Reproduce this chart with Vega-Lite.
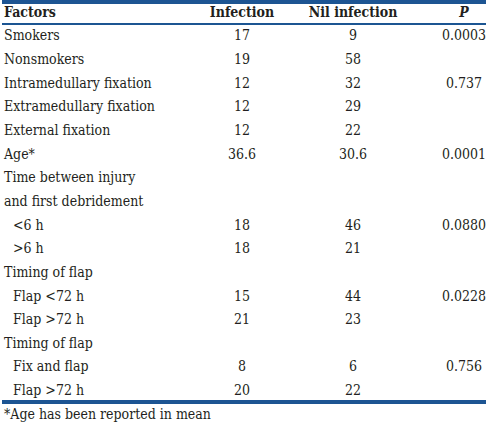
{
  "$schema": "https://vega.github.io/schema/vega-lite/v6.json",
  "width": 488,
  "height": 424,
  "padding": 0,
  "autosize": {"type": "fit", "contains": "padding"},
  "background": "white",
  "config": {"view": {"stroke": null}},
  "data": {"values": [
    {"line": 0, "sub": false, "factor": "Factors", "Infection": "Infection", "Nil infection": "Nil infection", "P": "P"},
    {"line": 1, "sub": false, "factor": "Smokers", "Infection": "17", "Nil infection": "9", "P": "0.0003"},
    {"line": 2, "sub": false, "factor": "Nonsmokers", "Infection": "19", "Nil infection": "58", "P": ""},
    {"line": 3, "sub": false, "factor": "Intramedullary fixation", "Infection": "12", "Nil infection": "32", "P": "0.737"},
    {"line": 4, "sub": false, "factor": "Extramedullary fixation", "Infection": "12", "Nil infection": "29", "P": ""},
    {"line": 5, "sub": false, "factor": "External fixation", "Infection": "12", "Nil infection": "22", "P": ""},
    {"line": 6, "sub": false, "factor": "Age*", "Infection": "36.6", "Nil infection": "30.6", "P": "0.0001"},
    {"line": 7, "sub": false, "factor": "Time between injury", "Infection": "", "Nil infection": "", "P": ""},
    {"line": 8, "sub": false, "factor": "and first debridement", "Infection": "", "Nil infection": "", "P": ""},
    {"line": 9, "sub": true, "factor": "<6 h", "Infection": "18", "Nil infection": "46", "P": "0.0880"},
    {"line": 10, "sub": true, "factor": ">6 h", "Infection": "18", "Nil infection": "21", "P": ""},
    {"line": 11, "sub": false, "factor": "Timing of flap", "Infection": "", "Nil infection": "", "P": ""},
    {"line": 12, "sub": true, "factor": "Flap <72 h", "Infection": "15", "Nil infection": "44", "P": "0.0228"},
    {"line": 13, "sub": true, "factor": "Flap >72 h", "Infection": "21", "Nil infection": "23", "P": ""},
    {"line": 14, "sub": false, "factor": "Timing of flap", "Infection": "", "Nil infection": "", "P": ""},
    {"line": 15, "sub": true, "factor": "Fix and flap", "Infection": "8", "Nil infection": "6", "P": "0.756"},
    {"line": 16, "sub": true, "factor": "Flap >72 h", "Infection": "20", "Nil infection": "22", "P": ""},
    {"line": 17, "sub": false, "factor": "*Age has been reported in mean", "Infection": "", "Nil infection": "", "P": ""}
  ]},
  "encoding": {
    "y": {"field": "line", "type": "quantitative", "scale": {"domain": [-0.5, 17.39], "reverse": true, "nice": false, "zero": false}, "axis": null}
  },
  "layer": [
    {
      "mark": {"type": "rule", "color": "#1d5592", "strokeWidth": 3},
      "encoding": {"y": {"datum": -0.45, "type": "quantitative"}}
    },
    {
      "mark": {"type": "rule", "color": "#1d5592", "strokeWidth": 1},
      "encoding": {"y": {"datum": 0.47, "type": "quantitative"}}
    },
    {
      "mark": {"type": "rule", "color": "#1d5592", "strokeWidth": 3},
      "encoding": {"y": {"datum": 16.47, "type": "quantitative"}}
    },
    {
      "resolve": {"scale": {"x": "independent"}},
      "layer": [
        {
          "layer": [
            {
              "transform": [{"filter": "datum.line === 0"}],
              "mark": {"type": "text", "align": "left", "baseline": "middle", "font": "DejaVu Serif Condensed, DejaVu Serif", "fontSize": 14, "fontWeight": "bold", "color": "#231f20"},
              "encoding": {"text": {"field": "factor"}}
            },
            {
              "transform": [{"filter": "datum.line > 0 && !datum.sub"}],
              "mark": {"type": "text", "align": "left", "baseline": "middle", "font": "DejaVu Serif Condensed, DejaVu Serif", "fontSize": 14, "color": "#231f20"},
              "encoding": {"text": {"field": "factor"}}
            },
            {
              "transform": [{"filter": "datum.sub"}],
              "mark": {"type": "text", "align": "left", "baseline": "middle", "font": "DejaVu Serif Condensed, DejaVu Serif", "fontSize": 14, "color": "#231f20", "dx": 9},
              "encoding": {"text": {"field": "factor"}}
            }
          ],
          "encoding": {
            "x": {"datum": "Factors", "type": "nominal", "scale": {"type": "point", "domain": ["Factors"], "range": [2, 488], "padding": 0, "align": 0}, "axis": null}
          }
        },
        {
          "transform": [{"fold": ["Infection", "Nil infection", "P"], "as": ["col", "val"]}],
          "layer": [
            {
              "transform": [{"filter": "datum.line === 0 && datum.col !== 'P'"}],
              "mark": {"type": "text", "align": "center", "baseline": "middle", "font": "DejaVu Serif Condensed, DejaVu Serif", "fontSize": 14, "fontWeight": "bold", "color": "#231f20"},
              "encoding": {"text": {"field": "val"}}
            },
            {
              "transform": [{"filter": "datum.line === 0 && datum.col === 'P'"}],
              "mark": {"type": "text", "align": "center", "baseline": "middle", "font": "DejaVu Serif Condensed, DejaVu Serif", "fontSize": 14, "fontWeight": "bold", "fontStyle": "italic", "color": "#231f20"},
              "encoding": {"text": {"field": "val"}}
            },
            {
              "transform": [{"filter": "datum.line > 0"}],
              "mark": {"type": "text", "align": "center", "baseline": "middle", "font": "DejaVu Serif Condensed, DejaVu Serif", "fontSize": 14, "color": "#231f20"},
              "encoding": {"text": {"field": "val"}}
            }
          ],
          "encoding": {
            "x": {"field": "col", "type": "nominal", "scale": {"type": "point", "domain": ["Infection", "Nil infection", "P"], "range": [240, 462], "padding": 0}, "axis": null}
          }
        }
      ]
    }
  ]
}
